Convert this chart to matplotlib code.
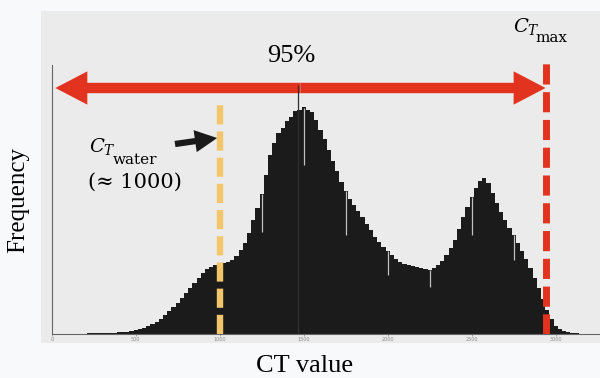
import numpy as np
import matplotlib.pyplot as plt
from matplotlib.patches import Rectangle, FancyArrowPatch

# histogram of CT values (bin centres every 25, heights in arbitrary units)
ct_start, ct_step = 150, 25
freq = [0.3, 0.3, 0.5, 0.6, 0.8, 0.9, 1.0, 1.2, 1.3, 1.5,
        1.7, 2.0, 2.3, 2.8, 3.6, 4.6, 6.1, 7.9, 10.2, 12.4,
        15.3, 18.8, 23.4, 26.9, 31.5, 35.7, 40.6, 45.8, 51.3, 56.4,
        61.2, 64.6, 67.5, 68.8, 70.4, 70.9, 72.3, 73.8, 78.4, 83.6,
        91.5, 100.7, 114.2, 125.6, 140.3, 159.4, 178.6, 191.5, 200.8, 206.4,
        213.5, 217.2, 222.6, 224.3, 226.8, 224.1, 222.5, 213.6, 204.2, 194.7,
        184.3, 172.8, 163.5, 151.6, 143.2, 134.7, 129.4, 122.6, 117.3, 109.8,
        104.5, 96.8, 92.3, 86.7, 83.1, 78.6, 75.4, 71.8, 70.2, 68.7,
        68.3, 66.6, 66.2, 64.8, 64.3, 65.9, 69.4, 72.8, 79.3, 85.6,
        94.4, 104.8, 117.5, 126.7, 137.4, 145.8, 153.2, 155.6, 151.3, 140.8,
        131.4, 121.7, 114.3, 105.6, 99.2, 90.7, 83.4, 74.6, 66.3, 55.8,
        46.2, 34.7, 24.3, 15.1, 8.2, 5.1, 3.0, 2.0, 1.1, 0.7,
        0.5, 0.3, 0.2, 0.1]
ct_bins = ct_start + ct_step * np.arange(len(freq))

# single bins that stand out of the envelope
dip_ct = [1250, 1500, 1750, 2000, 2250, 2500, 2750]
dip_low = [102, 169, 99, 59, 47, 99, 74]
dip_high = [140, 226, 143, 83, 64, 137, 99]
spike_ct = [1465]
spike_val = [249]

ct_water = 1000
ct_max = 2940
xticks = [0, 500, 1000, 1500, 2000, 2500, 3000]

red = '#e2331f'
yellow = '#f4c66c'
serif = 'Liberation Serif'
plt.rcParams['mathtext.fontset'] = 'dejavuserif'

fig = plt.figure(figsize=(6, 3.78), dpi=100, facecolor='#f8f9fa')
fig.patches.append(Rectangle((41 / 600, 1 - 343 / 378), 559 / 600, 332 / 378,
                             transform=fig.transFigure, facecolor='#ebebeb',
                             edgecolor='none', zorder=-10))
ax = fig.add_axes([51.7 / 600, 1 - 334 / 378, 1 - 51.7 / 600, 269 / 378])
ax.set_zorder(5)
ax.set_facecolor('none')

ax.bar(ct_bins, freq, width=ct_step, color='#1b1b1b', linewidth=0)
ax.vlines(dip_ct, dip_low, dip_high, color='#c0c0c0', lw=0.9)
ax.vlines(spike_ct, 0, spike_val, color='#303030', lw=0.9)

ax.set_xlim(0, 3264)
ax.set_ylim(0, 269)
for s in ['top', 'right']:
    ax.spines[s].set_visible(False)
for s in ['left', 'bottom']:
    ax.spines[s].set_color('#666666')
    ax.spines[s].set_linewidth(0.8)
ax.set_yticks([])
ax.set_xticks(xticks)
ax.tick_params(axis='x', labelsize=3.5, labelcolor='#8a8a8a', length=1.5,
               width=0.5, color='#888888', pad=1)

# threshold lines
ax.plot([ct_max, ct_max], [0, 271], color=red, lw=5, dashes=(2.9, 1.1),
        clip_on=False, solid_capstyle='butt')
ax.plot([ct_water, ct_water], [0, 233], color=yellow, lw=4.6, dashes=(3.0, 1.1),
        clip_on=False)

# 95% double arrow
mid = (22 + ct_max) / 2
for end in [22, ct_max]:
    ax.add_patch(FancyArrowPatch((mid, 246), (end, 246),
                                 arrowstyle='simple,head_length=2.3,head_width=2.4,tail_width=0.75',
                                 mutation_scale=10, color=red, lw=0, clip_on=False,
                                 shrinkA=0, shrinkB=0))
ax.text(1425, 278, '95%', fontsize=19, family=serif, ha='center', va='center')


def px(x, y):
    return x / 600, 1 - y / 378


# C_T max label (C_T in math italic, "max" as smaller upright suffix)
fig.text(*px(513, 32), r'$C_T$', fontsize=14, ha='left', va='baseline', zorder=10)
fig.text(*px(535, 42), 'max', fontsize=11, family='DejaVu Serif', ha='left',
         va='baseline', zorder=10)

# water marker
ax.add_patch(FancyArrowPatch((734, 190), (985, 196),
                             arrowstyle='simple,head_length=1.6,head_width=1.6,tail_width=0.45',
                             mutation_scale=10, color='#1a1a1a', lw=0, shrinkA=0, shrinkB=0))
fig.text(*px(89, 152), r'$C_T$', fontsize=14, ha='left', va='baseline', zorder=10)
fig.text(*px(113, 164), 'water', fontsize=11, family='DejaVu Serif', ha='left',
         va='baseline', zorder=10)
fig.text(*px(135, 182), '(≈ 1000)', fontsize=15, family='DejaVu Serif',
         ha='center', va='center', zorder=10)

fig.text(*px(305, 366), 'CT value', fontsize=19, family=serif, ha='center', va='center')
fig.text(*px(18, 200), 'Frequency', fontsize=18, family=serif, ha='center',
         va='center', rotation=90)

fig.savefig('out.png', dpi=100, facecolor=fig.get_facecolor())
